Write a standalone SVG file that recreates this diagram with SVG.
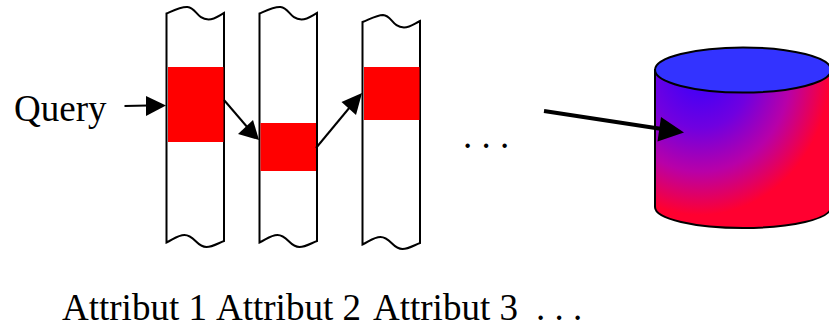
<svg xmlns="http://www.w3.org/2000/svg" width="829" height="327" viewBox="0 0 829 327">
<style>
text{font-family:"Liberation Serif","Times New Roman",serif;font-size:37px;fill:#000}
.strip{fill:#fff;stroke:#000;stroke-width:2}
.red{fill:#f00}
.conn{fill:none;stroke:#000;stroke-width:2}
.cyl{stroke:#000;stroke-width:2}
</style>
<defs>
<radialGradient id="g" gradientUnits="userSpaceOnUse" cx="0" cy="0" r="1" gradientTransform="translate(700 70) scale(130 145)">
<stop offset="0" stop-color="#3300ff"/>
<stop offset="0.4" stop-color="#7000e0"/>
<stop offset="0.7" stop-color="#b800a8"/>
<stop offset="1" stop-color="#ff0030"/>
</radialGradient>
<path id="strip" class="strip" d="M0 13.500C8 10 15 6.500 21 7C30 8 30 19 42 19.500C48 19.500 52 16 57.500 13L57.500 241C52 243 46 247 40 247C30 247 28 235 18 235C11 235 6 240 0 242.500Z"/>
</defs>
<g id="attribute-1"><use href="#strip" x="166.500"/><rect class="red" x="168" y="67" width="55.500" height="75"/></g>
<g id="attribute-2"><use href="#strip" x="259.500"/><rect class="red" x="260.500" y="123" width="55.500" height="48"/></g>
<g id="attribute-3"><path class="strip" d="M362.500 22C370 19 377 15 383 15C392 15.500 392 27 404 27.500C410 27.500 414 24 420 21L420 243C414.500 245 408.500 249 402.500 249C392.500 249 390.500 237 380.500 237C373.500 237 368.500 242 362.500 244.500Z"/><rect class="red" x="364" y="67" width="55.500" height="53"/></g>
<g id="database">
<path class="cyl" fill="url(#g)" d="M655 70V207C655 219 695 228 743 228S831 219 831 207V70Z"/>
<ellipse class="cyl" fill="#3333ff" cx="743" cy="70" rx="88" ry="22.500"/>
</g>
<g id="connectors" class="conn">
<path d="M124.500 106L148 105.500"/><path fill="#000" stroke="none" d="M146 96L166 105.500L146 116Z"/>
<path d="M224 100L248 128"/><path fill="#000" stroke="none" d="M238 134L253 120L259 140Z"/>
<path d="M316 148L350 107"/><path fill="#000" stroke="none" d="M341.500 102L362 93L356 115Z"/>
<path stroke-width="4" d="M544 111L662 129"/><path fill="#000" stroke="none" d="M661 117L684 132.500L657.500 141.500Z"/>
</g>
<g id="labels">
<text x="14" y="121">Query</text>
<text x="463" y="148">. . .</text>
<text x="62" y="319.800">Attribut 1</text>
<text x="216" y="319.800">Attribut 2</text>
<text x="373" y="319.800">Attribut 3</text>
<text x="536" y="319.800">. . .</text>
</g>
</svg>
